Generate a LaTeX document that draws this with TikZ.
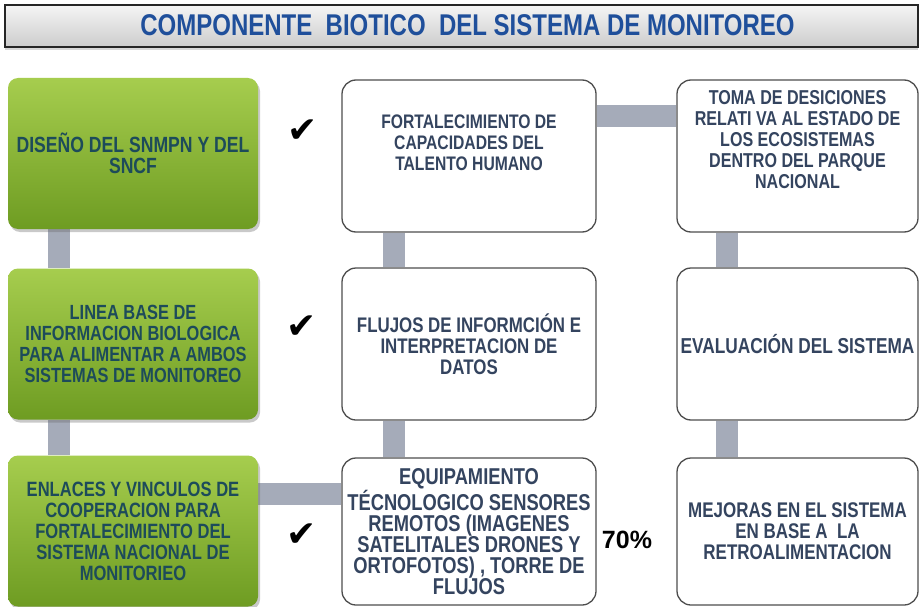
\documentclass[tikz,border=0pt]{standalone}
\usepackage{fontspec}
\setmainfont{Liberation Sans}[FakeStretch=0.8]
\newfontfamily\plainfont{Liberation Sans}
\newfontfamily\chkfont{DejaVu Sans}
\usetikzlibrary{shadows,backgrounds}
\definecolor{gtop}{HTML}{A6CD4E}
\definecolor{gmid}{HTML}{8FBD36}
\definecolor{gbot}{HTML}{6E9C22}
\definecolor{gtext}{HTML}{1D4B5A}
\definecolor{btext}{HTML}{34445F}
\definecolor{bdr}{HTML}{4D4D4D}
\definecolor{connc}{HTML}{A5ABB9}
\definecolor{ttl}{HTML}{1F4F9B}
\tikzset{
  greenbox/.style={rounded corners=10pt, top color=gtop, middle color=gmid, bottom color=gbot,
    draw=none, inner sep=0pt, minimum width=250pt, minimum height=151pt,
    drop shadow={shadow xshift=2pt, shadow yshift=-3pt, opacity=0.35, fill=black!60},
    align=center, text=gtext},
  whitebox/.style={rounded corners=14pt, draw=bdr, line width=1.3pt, fill=white, inner sep=0pt,
    align=center, text=btext},
  midbox/.style={whitebox, minimum width=254pt},
  rightbox/.style={whitebox, minimum width=241pt},
  btxt/.style={align=center, text=btext, inner sep=0pt},
  fsz/.style={font=\bfseries\fontsize{#1}{21}\selectfont},
  connline/.style={draw=connc, line width=22pt},
  chkmark/.style={font=\chkfont\fontsize{36}{36}\selectfont, inner sep=0pt},
  titlebar/.style={draw=black!85, line width=1.4pt, top color=gray!8, middle color=gray!16, bottom color=gray!40,
    drop shadow={shadow xshift=0pt, shadow yshift=-3pt, opacity=0.3, fill=black!50}},
}
\begin{document}
\begin{tikzpicture}[x=1pt,y=-1pt]
\useasboundingbox (0,0) rectangle (920,607);
% title
\node[titlebar, minimum width=913pt, minimum height=42pt, inner sep=0pt] (T) at (461.5,26) {};
\node[text=ttl, font=\bfseries\fontsize{30}{30}\selectfont, inner sep=0pt] (Tt) at (467.5,25.5) {COMPONENTE\ \ BIOTICO\ \ DEL SISTEMA DE MONITOREO};
% left column
\node[greenbox, fsz=22] (L1) at (133,153.5) {DISEÑO DEL SNMPN Y DEL\\SNCF};
\node[greenbox, fsz=20.5] (L2) at (133,344) {LINEA BASE DE\\INFORMACION BIOLOGICA\\PARA ALIMENTAR A AMBOS\\SISTEMAS DE MONITOREO};
\node[greenbox, fsz=20.7] (L3) at (133,531) {ENLACES Y VINCULOS DE\\COOPERACION PARA\\FORTALECIMIENTO DEL\\SISTEMA NACIONAL DE\\MONITORIEO};
% middle column
\node[midbox, minimum height=152pt] (M1) at (469,156) {};
\node[btxt, fsz=19.6] (M1t) at (469,143) {FORTALECIMIENTO DE\\CAPACIDADES DEL\\TALENTO HUMANO};
\node[midbox, minimum height=152pt, fsz=21.1] (M2) at (469,344) {FLUJOS DE INFORMCIÓN E\\INTERPRETACION DE\\DATOS};
\node[midbox, minimum height=147pt, fsz=22.9] (M3) at (469,531.5) {EQUIPAMIENTO\\TÉCNOLOGICO SENSORES\\REMOTOS (IMAGENES\\SATELITALES DRONES Y\\ORTOFOTOS) , TORRE DE\\FLUJOS};
% right column
\node[rightbox, minimum height=152pt] (R1) at (797.5,156) {};
\node[btxt, fsz=20.1] (R1t) at (797.5,140) {TOMA DE DESICIONES\\RELATI VA AL ESTADO DE\\LOS ECOSISTEMAS\\DENTRO DEL PARQUE\\NACIONAL};
\node[rightbox, minimum height=152pt, fsz=21.6] (R2) at (797.5,344) {EVALUACIÓN DEL SISTEMA};
\node[rightbox, minimum height=147pt, fsz=21.2] (R3) at (797.5,531.5) {MEJORAS EN EL SISTEMA\\EN BASE A\ \ LA\\RETROALIMENTACION};
% checks and percentage
\node[chkmark] (C1) at (303,131) {✔};
\node[chkmark] (C2) at (302,327) {✔};
\node[chkmark] (C3) at (302,535) {✔};
\node[font=\plainfont\bfseries\fontsize{25}{25}\selectfont, inner sep=0pt] (P) at (627,540) {70\%};
% connectors
\begin{scope}[on background layer]
\fill[white] (0,0) rectangle (920,607);
\draw[connline] ([xshift=-74pt]L1.south) -- ([xshift=-74pt]L2.north);
\draw[connline] ([xshift=-74pt]L2.south) -- ([xshift=-74pt]L3.north);
\draw[connline] ([yshift=37.5pt]L3.east) -- ([yshift=37.5pt]L3.east -| M3.west);
\draw[connline] ([xshift=-75.5pt]M1.south) -- ([xshift=-75.5pt]M2.north);
\draw[connline] ([xshift=-75.5pt]M2.south) -- ([xshift=-75.5pt]M3.north);
\draw[connline] ([yshift=40pt]M1.east) -- ([yshift=40pt]M1.east -| R1.west);
\draw[connline] ([xshift=-71pt]R1.south) -- ([xshift=-71pt]R2.north);
\draw[connline] ([xshift=-71pt]R2.south) -- ([xshift=-71pt]R3.north);
\end{scope}
\end{tikzpicture}
\end{document}
